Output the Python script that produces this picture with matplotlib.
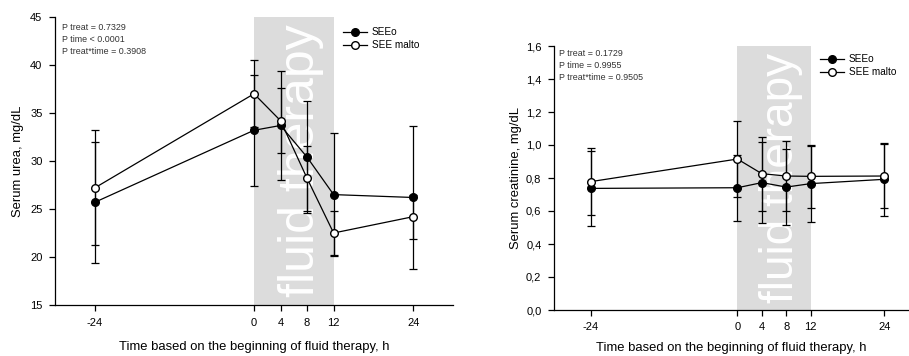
import matplotlib
matplotlib.use("Agg")
import matplotlib.pyplot as plt
from matplotlib.lines import Line2D
from matplotlib.ticker import FuncFormatter

plt.rcParams['font.family'] = ['Liberation Sans', 'DejaVu Sans']
plt.rcParams['axes.unicode_minus'] = False

# Sampling times (h relative to start of fluid therapy)
hours = [-24, 0, 4, 8, 12, 24]
series_names = ["SEEo", "SEE malto"]

# Serum urea, mg/dL (mean and SD)
urea_seeo = [25.7, 33.2, 33.7, 30.4, 26.5, 26.2]
urea_seeo_sd = [6.3, 5.8, 5.7, 5.8, 6.4, 7.4]
urea_malto = [27.2, 37.0, 34.2, 28.2, 22.5, 24.2]
urea_malto_sd = [6.0, 3.5, 3.4, 3.4, 2.3, 2.3]
urea_stats = ["P treat = 0.7329", "P time < 0.0001", "P treat*time = 0.3908"]

# Serum creatinine, mg/dL (mean and SD)
crea_seeo = [0.737, 0.741, 0.772, 0.745, 0.766, 0.792]
crea_seeo_sd = [0.225, 0.200, 0.245, 0.232, 0.230, 0.222]
crea_malto = [0.778, 0.915, 0.826, 0.812, 0.810, 0.812]
crea_malto_sd = [0.203, 0.228, 0.225, 0.214, 0.190, 0.196]
crea_stats = ["P treat = 0.1729", "P time = 0.9955", "P treat*time = 0.9505"]

therapy_window = (0, 12)
band_label = "fluid therapy"
xlabel = "Time based on the beginning of fluid therapy, h"

W, H = 909, 356
fig = plt.figure(figsize=(W / 100, H / 100), dpi=100)
ax1 = fig.add_axes([55 / W, 1 - 305 / H, 398 / W, 288 / H])
ax2 = fig.add_axes([554 / W, 1 - 310 / H, 354 / W, 264 / H])

legend_handles = [
    Line2D([], [], color="black", lw=0.9, marker="o", ms=5.5,
           mfc="black", mec="black"),
    Line2D([], [], color="black", lw=0.9, marker="o", ms=5.5,
           mfc="white", mec="black"),
]


def draw_panel(ax, m1, s1, m2, s2, stats, xlim, ylim, yticks, ylabel, fmt,
               band_text_y, band_fs, leg_px, stats_px, ylabel_px, xlabel_pad):
    w = ax.get_position().width * W
    h = ax.get_position().height * H
    ax.axvspan(*therapy_window, color="#dcdcdc", zorder=0, lw=0)
    ax.text(7.1, band_text_y, band_label, rotation=90, color="white",
            fontsize=band_fs, ha="center", va="center", zorder=1)
    for m, s, face, z in ((m1, s1, "black", 3), (m2, s2, "white", 4)):
        ax.errorbar(hours, m, yerr=s, color="black", lw=0.9, elinewidth=0.9,
                    capsize=3.2, capthick=0.9, marker="o", ms=5.5,
                    mfc=face, mec="black", zorder=z)
    ax.set_xlim(*xlim)
    ax.set_ylim(*ylim)
    ax.set_xticks(hours)
    ax.set_yticks(yticks)
    ax.yaxis.set_major_formatter(FuncFormatter(fmt))
    for side in ("top", "right"):
        ax.spines[side].set_visible(False)
    for side in ("left", "bottom"):
        ax.spines[side].set_linewidth(0.9)
    ax.tick_params(direction="out", length=4, width=0.9, labelsize=8)
    ax.tick_params(axis="y", pad=5)
    ax.tick_params(axis="x", pad=5)
    ax.set_xlabel(xlabel, fontsize=9.4, labelpad=xlabel_pad)
    ax.set_ylabel(ylabel, fontsize=9.4)
    ax.yaxis.set_label_coords(-ylabel_px / w, 0.5)
    for i, s in enumerate(stats):
        ax.text(stats_px[0] / w, 1 - (stats_px[1] + i * 12) / h, s,
                transform=ax.transAxes, fontsize=6.4, color="#333333",
                va="center", ha="left")
    ax.legend(legend_handles, series_names, loc="upper left",
              bbox_to_anchor=(leg_px[0] / w, 1 - leg_px[1] / h),
              frameon=False, fontsize=7.2, handlelength=2.4,
              handletextpad=0.5, labelspacing=0.3, borderpad=0,
              borderaxespad=0)


draw_panel(ax1, urea_seeo, urea_seeo_sd, urea_malto, urea_malto_sd,
           urea_stats, (-30, 30), (15, 45), [15, 20, 25, 30, 35, 40, 45],
           "Serum urea, mg/dL", lambda v, p: f"{v:.0f}", 30.0, 36,
           (288, 10), (7, 10), 31, 10)
draw_panel(ax2, crea_seeo, crea_seeo_sd, crea_malto, crea_malto_sd,
           crea_stats, (-30, 27.9), (0, 1.6),
           [0, 0.2, 0.4, 0.6, 0.8, 1.0, 1.2, 1.4, 1.6],
           "Serum creatinine, mg/dL",
           lambda v, p: f"{v:.1f}".replace(".", ","), 0.80, 33,
           (266, 8), (5, 8), 32, 7)

fig.savefig("out.png", dpi=100)
